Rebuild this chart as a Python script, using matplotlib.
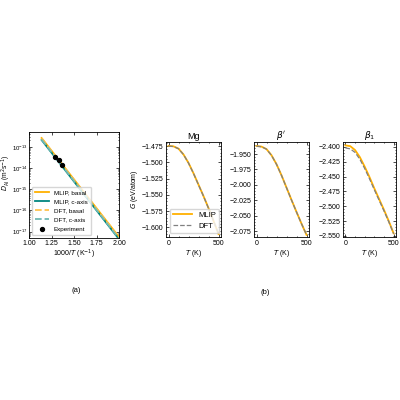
import numpy as np
import matplotlib.pyplot as plt

# (a) diffusion coefficient, Arrhenius lines
inv_T = [1.14, 2.0]
mlip_basal = [2.6e-13, 5.6e-18]
mlip_caxis = [2.1e-13, 4.4e-18]
dft_basal = [2.5e-13, 5.4e-18]
dft_caxis = [2.2e-13, 4.6e-18]
exp_x = [1.29, 1.33, 1.37]
exp_y = [3.3e-14, 2.4e-14, 1.4e-14]

# (b) free energies
T = [0, 50, 100, 150, 200, 250, 300, 350, 400, 450, 500]
G_mg_mlip = [-1.4748, -1.4755, -1.4790, -1.4880, -1.5010, -1.5170, -1.5345, -1.5520, -1.5705, -1.5900, -1.6105]
G_mg_dft = [-1.4750, -1.4757, -1.4792, -1.4882, -1.5012, -1.5172, -1.5347, -1.5523, -1.5708, -1.5902, -1.6100]
G_bp_mlip = [-1.9370, -1.9380, -1.9420, -1.9520, -1.9665, -1.9845, -2.0045, -2.0245, -2.0440, -2.0630, -2.0812]
G_bp_dft = [-1.9372, -1.9382, -1.9422, -1.9522, -1.9667, -1.9847, -2.0047, -2.0247, -2.0442, -2.0632, -2.0810]
G_b1_mlip = [-2.3977, -2.3990, -2.4055, -2.4175, -2.4334, -2.4510, -2.4700, -2.4880, -2.5060, -2.5250, -2.5455]
G_b1_dft = [-2.4020, -2.4035, -2.4095, -2.4210, -2.4365, -2.4538, -2.4722, -2.4900, -2.5077, -2.5262, -2.5460]

orange = '#FFB000'
teal = '#00857E'

plt.rcParams['font.family'] = ['Liberation Sans', 'DejaVu Sans']
plt.rcParams['font.size'] = 5
plt.rcParams['axes.linewidth'] = 0.6
fig = plt.figure(figsize=(4, 4), dpi=100)

ax = fig.add_axes([0.0725, 0.405, 0.225, 0.265])
ax.semilogy(inv_T, mlip_basal, c=orange, lw=1.3, label='MLIP, basal')
ax.semilogy(inv_T, mlip_caxis, c=teal, lw=1.3, label='MLIP, c-axis')
ax.semilogy(inv_T, dft_basal, c='#FFC34D', lw=1.3, ls='--', label='DFT, basal')
ax.semilogy(inv_T, dft_caxis, c='#6FB8B3', lw=1.3, ls='--', label='DFT, c-axis')
ax.scatter(exp_x, exp_y, c='black', s=8, zorder=5, label='Experiment')
ax.set_xlim(1.0, 2.0)
ax.set_ylim(5e-18, 5e-13)
ax.set_xticks([1.0, 1.25, 1.5, 1.75, 2.0])
ax.set_yticks([1e-13, 1e-14, 1e-15, 1e-16, 1e-17])
ax.set_xlabel('1000/$T$ (K$^{-1}$)', labelpad=1)
ax.set_ylabel('$D_{\\rm Al}$ (m$^2$s$^{-1}$)', fontsize=4.8)
ax.yaxis.set_label_coords(-0.175, 0.62)
ax.tick_params(which='both', direction='in', top=True, right=True, pad=1.2, length=2, width=0.5)
ax.tick_params(axis='y', labelsize=4.3)
ax.tick_params(which='minor', length=1)
ax.legend(loc='lower left', fontsize=4.5, handlelength=2.2, borderpad=0.5, labelspacing=0.6)
fig.text(0.19, 0.27, '(a)', ha='center', fontsize=5.5)

panels = [
    ([0.415, 0.4075, 0.1375, 0.2375], 'Mg', G_mg_mlip, G_mg_dft, (-1.615, -1.4688), [-1.475, -1.5, -1.525, -1.55, -1.575, -1.6]),
    ([0.635, 0.4075, 0.1375, 0.2375], "$\\beta'$", G_bp_mlip, G_bp_dft, (-2.0847, -1.9305), [-1.95, -1.975, -2.0, -2.025, -2.05, -2.075]),
    ([0.8575, 0.4075, 0.1325, 0.2375], '$\\beta_1$', G_b1_mlip, G_b1_dft, (-2.5517, -2.392), [-2.4, -2.425, -2.45, -2.475, -2.5, -2.525, -2.55]),
]
for i, (rect, title, gm, gd, ylim, yt) in enumerate(panels):
    a = fig.add_axes(rect)
    a.plot(T, gm, c=orange, lw=1.3, label='MLIP')
    a.plot(T, gd, c='gray', lw=0.9, ls='--', label='DFT')
    a.set_xlim(-25, 525)
    a.set_ylim(*ylim)
    a.set_xticks([0, 500])
    a.set_yticks(yt)
    a.set_yticklabels(['\u2212%.3f' % -v for v in yt])
    a.minorticks_on()
    a.tick_params(which='both', direction='in', top=True, right=True, pad=2, length=2, width=0.5)
    a.tick_params(which='minor', length=1)
    a.set_title(title, fontsize=6.5, pad=2)
    a.set_xlabel('$T$ (K)', labelpad=1)
    if i == 0:
        a.set_ylabel('$G$ (eV/atom)', labelpad=1)
        a.legend(loc='lower left', fontsize=5.5, handlelength=2.5)
fig.text(0.6625, 0.265, '(b)', ha='center', fontsize=5.5)

plt.savefig('out.png', dpi=100)
